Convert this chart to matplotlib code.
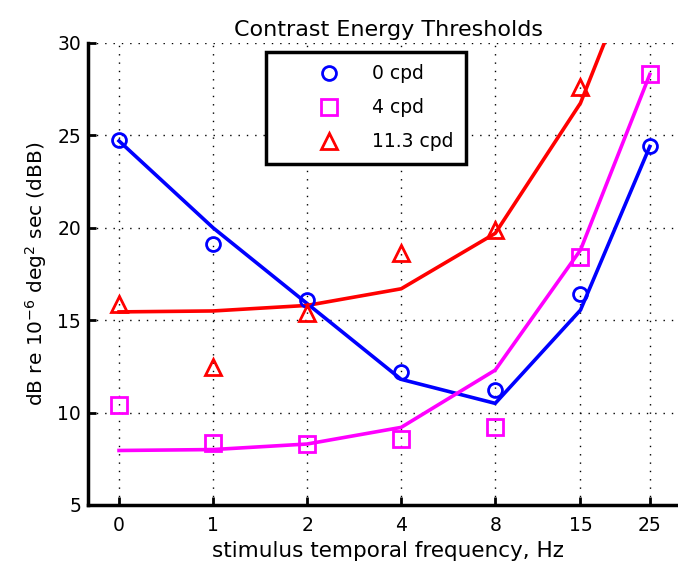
import numpy as np
import matplotlib
matplotlib.use("Agg")
import matplotlib.pyplot as plt

plt.rcParams['font.family'] = ['DejaVu Sans']

freqs = [0, 1, 2, 4, 8, 15, 25]
tick_labels = ['0', '1', '2', '4', '8', '15', '25']

# measured thresholds (markers)
data_0 = [24.75, 19.1, 16.1, 12.2, 11.2, 16.4, 24.4]
data_4 = [10.4, 8.35, 8.3, 8.55, 9.2, 18.4, 28.3]
data_11 = [15.9, 12.45, 15.4, 18.65, 19.9, 27.6, 37.0]

# model fits (lines)
fit_0 = [24.7, 20.0, 15.9, 11.8, 10.5, 15.55, 24.4]
fit_4 = [7.95, 8.0, 8.3, 9.2, 12.3, 18.8, 28.3]
fit_11 = [15.45, 15.5, 15.8, 16.7, 19.7, 26.75, 36.2]

# frequency axis is log2(f)+1, with 0 Hz put at 0
x = np.array([0.0 if f == 0 else np.log2(f) + 1 for f in freqs])

fig = plt.figure(figsize=(6.78, 5.71), dpi=100)
ax = fig.add_axes([88/678, 1 - 505/571, 600/678, 462/571])

ax.plot(x, fit_0, '-', color='#0000ff', lw=2.6, zorder=3)
ax.plot(x, fit_4, '-', color='#ff00ff', lw=2.6, zorder=3)
ax.plot(x, fit_11, '-', color='#ff0000', lw=2.6, zorder=3)

h0, = ax.plot(x, data_0, 'o', mfc='none', mec='#0000ff', mew=2, ms=10, zorder=4)
h4, = ax.plot(x, data_4, 's', mfc='none', mec='#ff00ff', mew=2, ms=11, zorder=4)
h11, = ax.plot(x, data_11, '^', mfc='none', mec='#ff0000', mew=2, ms=12, zorder=4)

ax.set_xlim(-0.33, 6.05)
ax.set_ylim(5, 30)
ax.set_xticks(x)
ax.set_xticklabels(tick_labels)
ax.set_yticks([5, 10, 15, 20, 25, 30])

ax.grid(True, color='black', linestyle=(0, (1, 5)), linewidth=1.0)
ax.set_axisbelow(True)
for s in ['top', 'right']:
    ax.spines[s].set_visible(False)
for s in ['left', 'bottom']:
    ax.spines[s].set_linewidth(2.5)
ax.tick_params(direction='in', length=6, width=2, labelsize=13.5)
ax.tick_params(axis='x', pad=8)
ax.tick_params(axis='y', pad=5)

ax.set_title('Contrast Energy Thresholds', fontsize=16, pad=5)
ax.set_xlabel('stimulus temporal frequency, Hz', fontsize=15.5, labelpad=4)
ax.set_ylabel(r'dB re 10$^{-6}$ deg$^2$ sec (dBB)', fontsize=14.5, labelpad=6)

leg = ax.legend([h0, h4, h11], ['0 cpd', '4 cpd', '11.3 cpd'],
                loc='upper left', bbox_to_anchor=(0.297, 0.98),
                fontsize=13.5, frameon=True, fancybox=False, framealpha=1,
                borderpad=0.65, labelspacing=0.8, handlelength=5.4,
                handletextpad=-0.4, borderaxespad=0)
leg.get_frame().set_edgecolor('black')
leg.get_frame().set_linewidth(2.5)

fig.savefig('out.png', dpi=100)
